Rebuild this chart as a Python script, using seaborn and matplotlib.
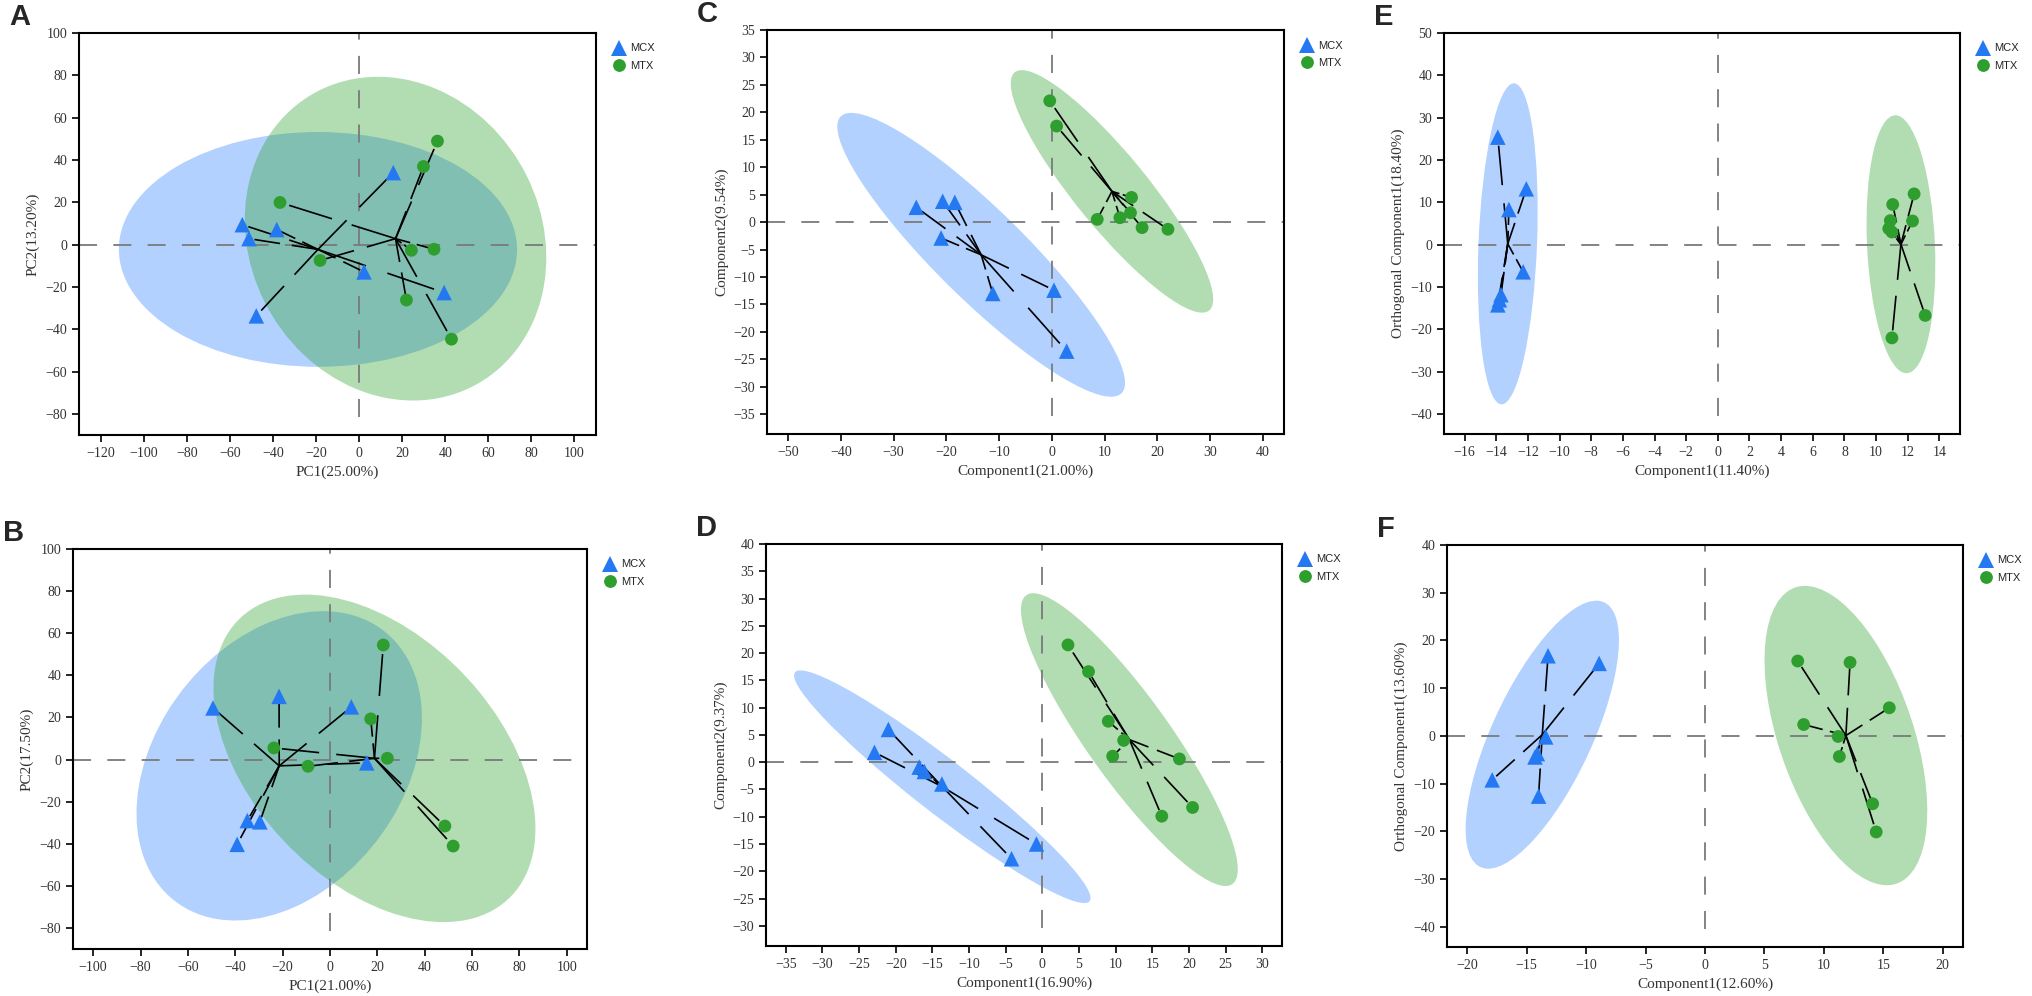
import numpy as np
import pandas as pd
import matplotlib
matplotlib.use("Agg")
import matplotlib.pyplot as plt
from matplotlib.patches import Ellipse
from matplotlib.collections import LineCollection
import seaborn as sns

# Groups
groups = ["MCX", "MTX"]

# A: PCA
a_mcx_x = [-54.2, -51.1, -38.2, -47.7, 15.9, 2.3, 39.5]
a_mcx_y = [9.4, 2.8, 7.1, -33.7, 34.0, -12.9, -22.7]
a_mtx_x = [-36.7, -18.1, 24.3, 34.8, 29.9, 36.4, 22.0, 42.9]
a_mtx_y = [19.9, -7.5, -2.7, -2.2, 36.9, 48.9, -26.2, -44.7]

# B: PCA
b_mcx_x = [-49.4, -21.5, 9.0, 15.5, -34.9, -29.6, -39.2]
b_mcx_y = [24.5, 30.0, 25.0, -1.6, -29.0, -29.6, -40.3]
b_mtx_x = [-23.7, -9.3, 17.2, 22.5, 24.2, 48.5, 52.0]
b_mtx_y = [5.5, -3.2, 19.3, 54.4, 0.6, -31.6, -41.1]

# C: PLS-DA
c_mcx_x = [-25.7, -20.7, -18.4, -21.0, -11.2, 0.4, 2.8]
c_mcx_y = [2.7, 3.8, 3.6, -2.9, -13.0, -12.4, -23.5]
c_mtx_x = [-0.4, 0.9, 15.1, 14.9, 12.9, 8.6, 17.1, 22.0]
c_mtx_y = [22.1, 17.5, 4.5, 1.7, 0.8, 0.5, -1.0, -1.3]

# D: PLS-DA
d_mcx_x = [-21.0, -22.9, -16.8, -16.1, -13.7, -4.2, -0.8]
d_mcx_y = [6.0, 1.8, -0.9, -1.7, -4.0, -17.7, -15.0]
d_mtx_x = [3.5, 6.3, 9.0, 11.1, 9.6, 18.7, 16.3, 20.5]
d_mtx_y = [21.5, 16.6, 7.5, 4.0, 1.1, 0.6, -9.9, -8.3]

# E: OPLS-DA
e_mcx_x = [-13.9, -12.1, -13.2, -12.3, -13.7, -13.8, -13.9]
e_mcx_y = [25.4, 13.2, 8.3, -6.4, -11.8, -13.0, -14.2]
e_mtx_x = [11.05, 12.4, 10.9, 12.3, 10.8, 11.0, 13.1, 11.0]
e_mtx_y = [9.5, 12.0, 5.7, 5.6, 3.8, 3.0, -16.7, -22.0]

# F: OPLS-DA
f_mcx_x = [-13.2, -8.9, -13.4, -14.1, -14.3, -17.9, -14.0]
f_mcx_y = [16.8, 15.2, -0.2, -3.7, -4.4, -9.2, -12.6]
f_mtx_x = [7.8, 12.2, 15.5, 8.3, 11.2, 11.3, 14.1, 14.4]
f_mtx_y = [15.7, 15.4, 5.9, 2.4, -0.1, -4.3, -14.2, -20.1]

panel_letters = ["A", "B", "C", "D", "E", "F"]
x_labels = ["PC1(25.00%)", "PC1(21.00%)", "Component1(21.00%)",
            "Component1(16.90%)", "Component1(11.40%)", "Component1(12.60%)"]
y_labels = ["PC2(13.20%)", "PC2(17.50%)", "Component2(9.54%)",
            "Component2(9.37%)", "Orthogonal Component1(18.40%)",
            "Orthogonal Component1(13.60%)"]
x_ticks = [np.arange(-120, 101, 20), np.arange(-100, 101, 20), np.arange(-50, 41, 10),
           np.arange(-35, 31, 5), np.arange(-16, 15, 2), np.arange(-20, 21, 5)]
y_ticks = [np.arange(-80, 101, 20), np.arange(-80, 101, 20), np.arange(-35, 36, 5),
           np.arange(-30, 41, 5), np.arange(-40, 51, 10), np.arange(-40, 41, 10)]
x_lims = [(-130, 110), (-108.5, 108.5), (-54, 44), (-37.7, 32.7), (-17.3, 15.3), (-21.7, 21.7)]
y_lims = [(-90, 100), (-90, 100), (-38.6, 35), (-33.7, 40), (-44.7, 50), (-44.2, 40)]

panel_data = [
    (a_mcx_x, a_mcx_y, a_mtx_x, a_mtx_y),
    (b_mcx_x, b_mcx_y, b_mtx_x, b_mtx_y),
    (c_mcx_x, c_mcx_y, c_mtx_x, c_mtx_y),
    (d_mcx_x, d_mcx_y, d_mtx_x, d_mtx_y),
    (e_mcx_x, e_mcx_y, e_mtx_x, e_mtx_y),
    (f_mcx_x, f_mcx_y, f_mtx_x, f_mtx_y),
]

# axes boxes in pixels: left, right, top, bottom
W, H = 2033, 996
boxes = [(79, 596, 33, 435), (73, 587, 549, 949),
         (767, 1284, 30, 434), (766, 1282, 544, 946),
         (1444, 1960, 33, 434), (1447, 1963, 545, 947)]

sns.set_style("ticks")
plt.rcParams['font.family'] = ['Liberation Serif', 'DejaVu Serif']

colors = {"MCX": "#2479F2", "MTX": "#2E9E2E"}
fills = {"MCX": ("#1E78FF", 0.34), "MTX": ("#2CA02C", 0.36)}
markers = {"MCX": "^", "MTX": "o"}
sizes = {"MCX": 125, "MTX": 85}
chi = np.sqrt(5.991)

fig = plt.figure(figsize=(W / 100, H / 100), dpi=100)

for i in range(6):
    l, r, t, b = boxes[i]
    ax = fig.add_axes([l / W, 1 - b / H, (r - l) / W, (b - t) / H])
    mx, my, tx, ty = panel_data[i]
    df = pd.DataFrame({
        "x": list(mx) + list(tx),
        "y": list(my) + list(ty),
        "group": ["MCX"] * len(mx) + ["MTX"] * len(tx),
    })

    # confidence ellipses
    for g in groups:
        sub = df[df.group == g]
        pts = sub[["x", "y"]].values
        cen = pts.mean(axis=0)
        cov = np.cov(pts.T)
        vals, vecs = np.linalg.eigh(cov)
        order = vals.argsort()[::-1]
        vals, vecs = vals[order], vecs[:, order]
        ang = np.degrees(np.arctan2(vecs[1, 0], vecs[0, 0]))
        c, a = fills[g]
        ax.add_patch(Ellipse(cen, 2 * chi * np.sqrt(vals[0]), 2 * chi * np.sqrt(vals[1]),
                             angle=ang, facecolor=c, alpha=a, edgecolor="none", zorder=1))

    # reference dashed lines
    ax.axhline(0, color="#7a7a7a", lw=1.3, ls=(0, (10, 9)), zorder=2)
    ax.axvline(0, ymin=0.045, color="#7a7a7a", lw=1.3, ls=(0, (10, 9)), zorder=2)

    # spokes toward group centroid (broken segments)
    segs = []
    for g in groups:
        pts = df[df.group == g][["x", "y"]].values
        cen = pts.mean(axis=0)
        for p in pts:
            d = cen - p
            segs.append([p + 0.08 * d, p + 0.45 * d])
            segs.append([p + 0.62 * d, cen])
    ax.add_collection(LineCollection(segs, colors="black", linewidths=1.2, zorder=3))

    sns.scatterplot(data=df, x="x", y="y", hue="group", style="group",
                    palette=colors, markers=markers, size="group", sizes=sizes,
                    linewidth=0, ax=ax, zorder=4)

    ax.set_xlim(x_lims[i])
    ax.set_ylim(y_lims[i])
    ax.set_xticks(x_ticks[i])
    ax.set_yticks(y_ticks[i])
    ax.set_xlabel(x_labels[i], fontsize=11, color="#333333", labelpad=4)
    ax.set_ylabel(y_labels[i], fontsize=11, color="#333333", labelpad=4)
    ax.tick_params(axis="both", direction="out", length=5, width=1.2,
                   labelsize=10, labelcolor="#333333", color="black")
    for s in ax.spines.values():
        s.set_color("black")
        s.set_linewidth(1.5)

    # legend
    handles, labels = ax.get_legend_handles_labels()
    ax.legend(handles=handles[-2:], labels=labels[-2:], loc="upper left",
              bbox_to_anchor=(1.015, 0.985), frameon=False, borderaxespad=0,
              handletextpad=0.0, labelspacing=0.7, markerscale=1.0,
              prop={"family": ["Liberation Sans", "DejaVu Sans"], "size": 8})

    # panel letter
    fig.text((l - 70) / W, 1 - (t - 2) / H, panel_letters[i], fontsize=21,
             fontweight="bold", family=["Liberation Sans", "DejaVu Sans"],
             va="bottom", ha="left")

fig.savefig("out.png", dpi=100)
